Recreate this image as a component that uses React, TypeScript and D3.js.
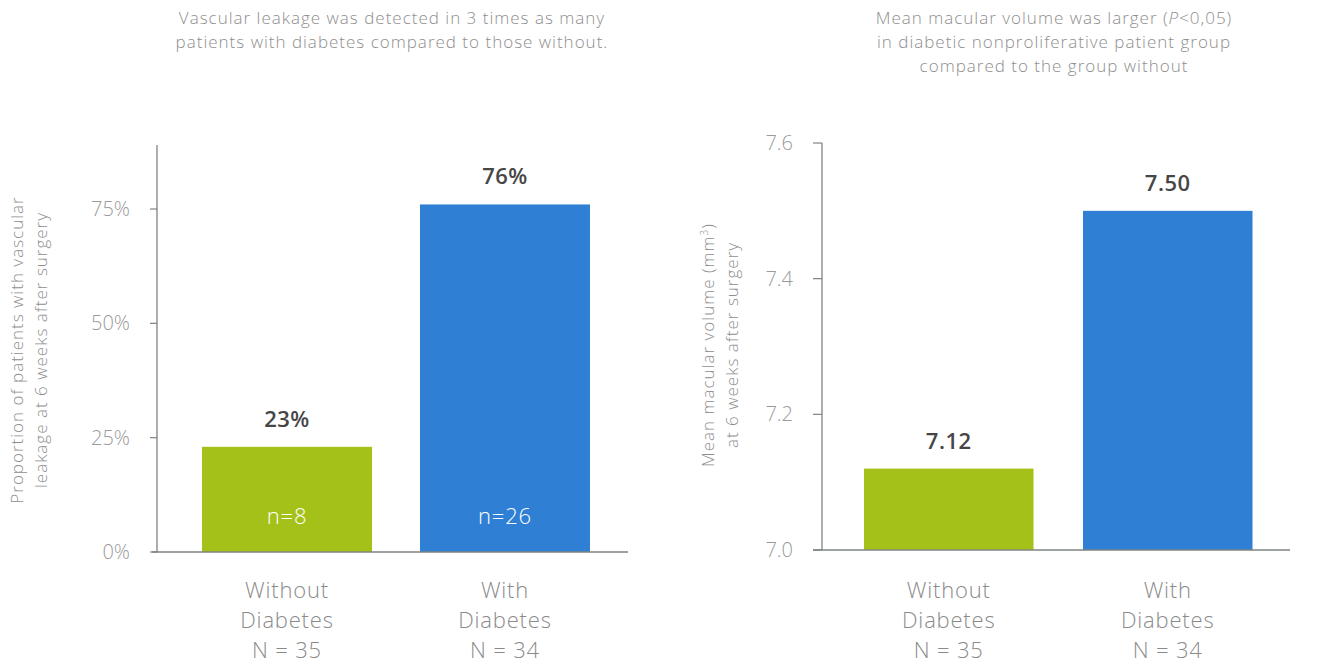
import React from "react";
import * as d3 from "d3";

const categories = ["Without|Diabetes|N = 35", "With|Diabetes|N = 34"];
const leakageValues = [0.23, 0.76];
const leakageLabels = ["23%", "76%"];
const leakageCounts = ["n=8", "n=26"];
const leakageTicks = [0, 0.25, 0.5, 0.75];
const volumeValues = [7.12, 7.5];
const volumeLabels = ["7.12", "7.50"];
const volumeTicks = [7.0, 7.2, 7.4, 7.6];
const barColors = ["#a4c11a", "#2f80d5"];

const FONT = "'Open Sans', 'Noto Sans', sans-serif";
const GRAY = "#8e8e8e";
const AXIS = "#7d8480";

export default function App() {
  const yL = d3.scaleLinear().domain([0, 0.89]).range([552, 145]);
  const xL = d3.scaleBand().domain(categories).range([180.2, 611.8]).paddingInner(0.22).paddingOuter(0.1);
  const yR = d3.scaleLinear().domain([7.0, 7.6]).range([550, 143]);
  const xR = d3.scaleBand().domain(categories).range([842.1, 1274.4]).paddingInner(0.226).paddingOuter(0.1);

  const pct = d3.format(".0%");
  const titleProps = { fontSize: 17, fill: GRAY, fontWeight: 300, letterSpacing: 1 } as const;

  return (
    <svg width={1337} height={663} style={{ display: "block", position: "absolute", left: 0, top: 0, background: "#fff" }} fontFamily={FONT}>
      {/* Titles */}
      <text x={392} y={24} textAnchor="middle" {...titleProps}>
        <tspan x={392} dy={0}>Vascular leakage was detected in 3 times as many</tspan>
        <tspan x={392} dy={24}>patients with diabetes compared to those without.</tspan>
      </text>
      <text x={1054} y={24} textAnchor="middle" {...titleProps}>
        <tspan x={1054} dy={0}>Mean macular volume was larger (<tspan fontStyle="italic">P</tspan>&lt;0,05)</tspan>
        <tspan x={1054} dy={24}>in diabetic nonproliferative patient group</tspan>
        <tspan x={1054} dy={24}>compared to the group without</tspan>
      </text>

      {/* LEFT CHART */}
      <g>
        <text transform={`translate(23,350) rotate(-90)`} textAnchor="middle" {...titleProps}>
          Proportion of patients with vascular
        </text>
        <text transform={`translate(47,350) rotate(-90)`} textAnchor="middle" {...titleProps}>
          leakage at 6 weeks after surgery
        </text>
        <line x1={157} x2={157} y1={yL(0.89)} y2={yL(0)} stroke={AXIS} strokeWidth={1.3} />
        {leakageTicks.map((t) => (
          <g key={t}>
            <line x1={150} x2={157} y1={yL(t)} y2={yL(t)} stroke={AXIS} strokeWidth={1.2} />
            <text x={130} y={yL(t)} dy="0.35em" textAnchor="end" fontSize={20} fill="#9a9a9a" fontWeight={300}>
              {pct(t)}
            </text>
          </g>
        ))}
        {categories.map((c, i) => (
          <g key={c}>
            <rect x={xL(c)} y={yL(leakageValues[i])} width={xL.bandwidth()} height={yL(0) - yL(leakageValues[i])} fill={barColors[i]} />
            <text x={xL(c)! + xL.bandwidth() / 2} y={yL(leakageValues[i]) - 20} textAnchor="middle" fontSize={22} fontWeight={600} fill="#464646" letterSpacing={0.5}>
              {leakageLabels[i]}
            </text>
            <text x={xL(c)! + xL.bandwidth() / 2} y={524} textAnchor="middle" fontSize={22} fill="#ffffff" fontWeight={300} letterSpacing={0.8}>
              {leakageCounts[i]}
            </text>
            {c.split("|").map((line, j) => (
              <text key={j} x={xL(c)! + xL.bandwidth() / 2} y={598 + j * 30} textAnchor="middle" fontSize={22} fill="#8a8a8a" fontWeight={300} letterSpacing={0.8}>
                {line}
              </text>
            ))}
          </g>
        ))}
        <line x1={152} x2={628} y1={yL(0)} y2={yL(0)} stroke={AXIS} strokeWidth={1.3} />
      </g>

      {/* RIGHT CHART */}
      <g>
        <text transform={`translate(714,345) rotate(-90)`} textAnchor="middle" {...titleProps}>
          Mean macular volume (mm<tspan dy={-6} fontSize={10}>3</tspan><tspan dy={6}>)</tspan>
        </text>
        <text transform={`translate(738,345) rotate(-90)`} textAnchor="middle" {...titleProps}>
          at 6 weeks after surgery
        </text>
        <line x1={822} x2={822} y1={yR(7.6)} y2={yR(7.0)} stroke={AXIS} strokeWidth={1.3} />
        {volumeTicks.map((t) => (
          <g key={t}>
            <line x1={813} x2={822} y1={yR(t)} y2={yR(t)} stroke={AXIS} strokeWidth={1.2} />
            <text x={793} y={yR(t)} dy="0.35em" textAnchor="end" fontSize={20} fill="#9a9a9a" fontWeight={300}>
              {d3.format(".1f")(t)}
            </text>
          </g>
        ))}
        {categories.map((c, i) => (
          <g key={c}>
            <rect x={xR(c)} y={yR(volumeValues[i])} width={xR.bandwidth()} height={yR(7.0) - yR(volumeValues[i])} fill={barColors[i]} />
            <text x={xR(c)! + xR.bandwidth() / 2} y={yR(volumeValues[i]) - 20} textAnchor="middle" fontSize={22} fontWeight={600} fill="#464646" letterSpacing={0.5}>
              {volumeLabels[i]}
            </text>
            {c.split("|").map((line, j) => (
              <text key={j} x={xR(c)! + xR.bandwidth() / 2} y={598 + j * 30} textAnchor="middle" fontSize={22} fill="#8a8a8a" fontWeight={300} letterSpacing={0.8}>
                {line}
              </text>
            ))}
          </g>
        ))}
        <line x1={813} x2={1290} y1={yR(7.0)} y2={yR(7.0)} stroke={AXIS} strokeWidth={1.3} />
      </g>
    </svg>
  );
}
